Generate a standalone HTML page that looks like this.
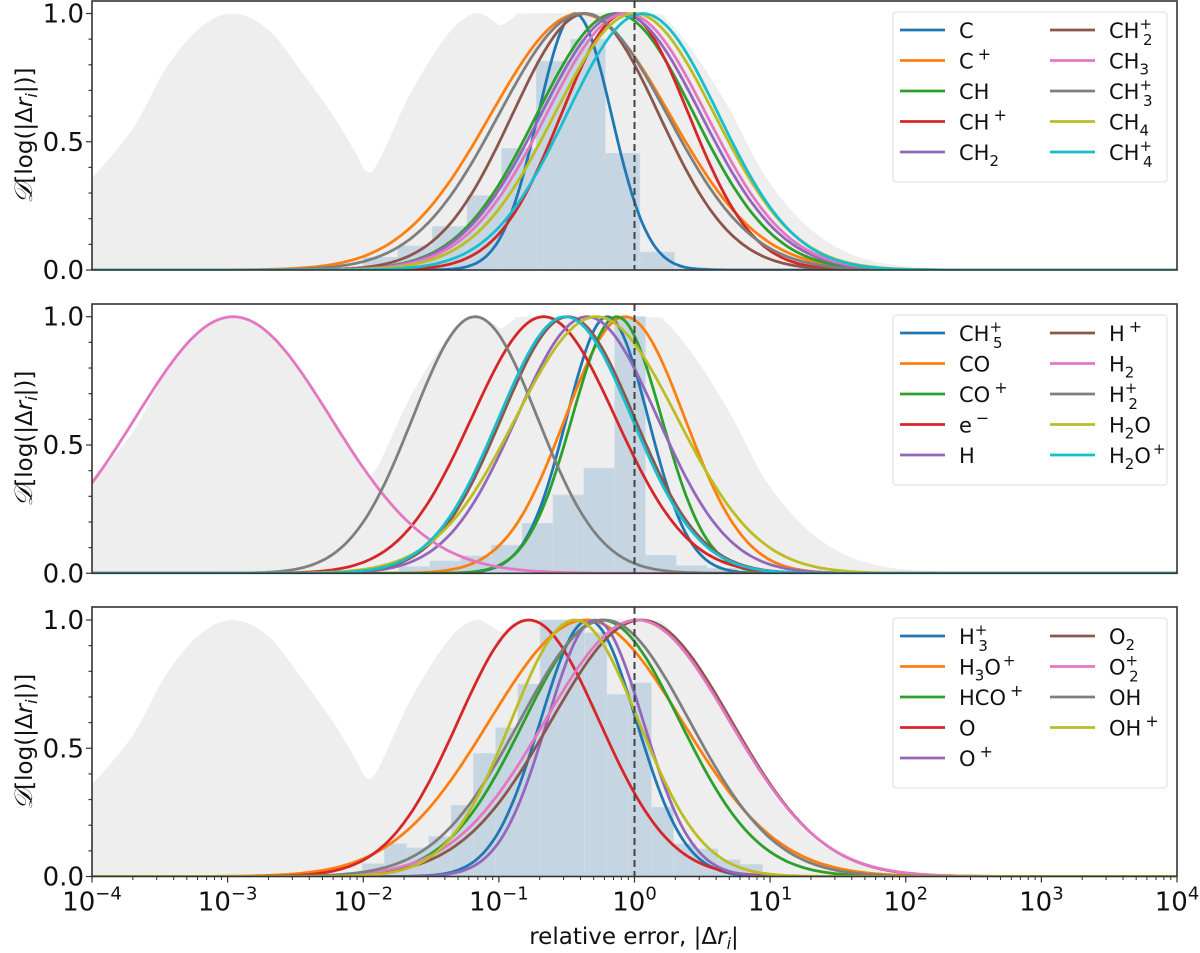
<!DOCTYPE html>
<html><head><meta charset="utf-8">
<style>
html,body{margin:0;padding:0;background:#fff;}
svg{display:block;font-family:"DejaVu Sans","Liberation Sans",sans-serif;}
</style></head>
<body>
<svg id="chart" width="1200" height="953" viewBox="0 0 1200 953" xmlns="http://www.w3.org/2000/svg"></svg>
<script>
// ---------- data ----------
const xTickExps = [-4,-3,-2,-1,0,1,2,3,4];
const yTickVals = [0,0.5,1];
const yTickLabels = ["0.0","0.5","1.0"];

// envelope fill (log10 x, value)
const envLog = [-4,-3.7,-3.45,-3.2,-2.96,-2.7,-2.45,-2.22,-2.06,-1.975,-1.89,-1.65,-1.375,-1.18,-1.05,-0.98,-0.88,-0.8,0.09,0.24,0.46,0.705,0.95,1.2,1.44,1.69,2.0,2.5,3,4];
const envVal = [0.357,0.55,0.79,0.946,1.0,0.937,0.77,0.6,0.46,0.385,0.42,0.69,0.92,1.0,0.975,0.955,0.99,1.0,1.0,0.974,0.83,0.623,0.377,0.208,0.104,0.045,0.015,0.003,0,0];

// panel 1
const p1Names = ["C","C+","CH","CH+","CH2","CH2+","CH3","CH3+","CH4","CH4+"];
const p1Mu = [-0.44,-0.40,-0.14,-0.07,-0.10,-0.36,-0.06,-0.38,0.0,0.06];
const p1Sigma = [0.27,0.66,0.58,0.47,0.59,0.54,0.59,0.62,0.59,0.56];
const p1HistStart = [-2.0,-1.745,-1.49,-1.235,-0.98,-0.725,-0.47,-0.215,0.04,0.295];
const p1HistWidth = 0.255;
const p1HistVal = [0.05,0.094,0.17,0.29,0.474,0.814,0.9,0.455,0.07,0.01];

// panel 2
const p2Names = ["CH5+","CO","CO+","e-","H","H+","H2","H2+","H2O","H2O+"];
const p2Mu = [-0.20,-0.07,-0.13,-0.67,-0.35,-0.49,-2.96,-1.175,-0.28,-0.51];
const p2Sigma = [0.30,0.44,0.33,0.53,0.52,0.49,0.72,0.46,0.595,0.49];
const p2HistStart = [-1.736,-1.509,-1.282,-1.055,-0.828,-0.601,-0.374,-0.147,0.08,0.307,0.534,0.761];
const p2HistWidth = 0.227;
const p2HistVal = [0.026,0.048,0.068,0.11,0.195,0.305,0.41,1.0,0.07,0.03,0.02,0.01];

// panel 3
const p3Names = ["H3+","H3O+","HCO+","O","O+","O2","O2+","OH","OH+"];
const p3Mu = [-0.34,-0.36,-0.24,-0.78,-0.29,0.05,0.02,-0.22,-0.44];
const p3Sigma = [0.354,0.71,0.573,0.52,0.354,0.665,0.68,0.626,0.47];
const p3HistStart = [-2.008,-1.844,-1.68,-1.516,-1.352,-1.188,-1.024,-0.86,-0.696,-0.532,-0.368,-0.204,-0.04,0.124,0.288,0.452,0.616,0.78];
const p3HistWidth = 0.164;
const p3HistVal = [0.05,0.128,0.112,0.156,0.277,0.48,0.58,0.75,1.0,1.0,0.95,0.71,0.755,0.27,0.128,0.108,0.065,0.047];

const colors = ["#1f77b4","#ff7f0e","#2ca02c","#d62728","#9467bd","#8c564b","#e377c2","#7f7f7f","#bcbd22","#17becf"];

// ---------- geometry ----------
const X0 = 92, X1 = 1177;
const panels = [
  {y1:13.5, y0:270, top:1, names:p1Names, mu:p1Mu, sg:p1Sigma, hs:p1HistStart, hw:p1HistWidth, hv:p1HistVal},
  {y1:316.7, y0:573.3, top:304, names:p2Names, mu:p2Mu, sg:p2Sigma, hs:p2HistStart, hw:p2HistWidth, hv:p2HistVal},
  {y1:620, y0:876.5, top:607, names:p3Names, mu:p3Mu, sg:p3Sigma, hs:p3HistStart, hw:p3HistWidth, hv:p3HistVal}
];
const NS = "http://www.w3.org/2000/svg";
const svg = document.getElementById('chart');
function xs(l){ return X0 + (l + 4) / 8 * (X1 - X0); }
function mk(tag, attrs, parent){
  const e = document.createElementNS(NS, tag);
  for (const k in attrs) e.setAttribute(k, attrs[k]);
  (parent || svg).appendChild(e);
  return e;
}
function smoothPath(pts){
  // Catmull-Rom to bezier
  let d = 'M' + pts[0][0].toFixed(1) + ',' + pts[0][1].toFixed(1);
  for (let i = 0; i < pts.length - 1; i++) {
    const p0 = pts[Math.max(0,i-1)], p1 = pts[i], p2 = pts[i+1], p3 = pts[Math.min(pts.length-1,i+2)];
    const c1x = p1[0] + (p2[0]-p0[0])/6, c1y = p1[1] + (p2[1]-p0[1])/6;
    const c2x = p2[0] - (p3[0]-p1[0])/6, c2y = p2[1] - (p3[1]-p1[1])/6;
    d += ' C' + c1x.toFixed(1)+','+c1y.toFixed(1)+' '+c2x.toFixed(1)+','+c2y.toFixed(1)+' '+p2[0].toFixed(1)+','+p2[1].toFixed(1);
  }
  return d;
}

panels.forEach((p, pi) => {
  const ys = v => p.y0 - v * (p.y0 - p.y1);
  const g = mk('g', {}, svg);
  
  
  const clipId = 'clip' + pi;
  const cp = mk('clipPath', {id: clipId}, g);
  mk('rect', {x:X0, y:p.top, width:X1-X0, height:p.y0-p.top}, cp);
  const plot = mk('g', {'clip-path':'url(#'+clipId+')'}, g);
  // envelope
  const pts = envLog.map((l,i) => [xs(l), ys(envVal[i])]);
  let d = smoothPath(pts);
  d += ' L' + xs(envLog[envLog.length-1]) + ',' + ys(0) + ' L' + xs(envLog[0]) + ',' + ys(0) + ' Z';
  const env = mk('path', {d:d, fill:'#eeeeee'}, plot);
  
  
  // histogram
  p.hs.forEach((s, i) => {
    const r = mk('rect', {x:xs(s).toFixed(1), y:ys(p.hv[i]).toFixed(1), width:(xs(s+p.hw)-xs(s)).toFixed(1), height:(ys(0)-ys(p.hv[i])).toFixed(1), fill:'#c5d6e2', stroke:'#cfdde8', 'stroke-width':0.6}, plot);
    
    
  });
  // curves
  p.mu.forEach((mu, i) => {
    let pd = '';
    for (let k = 0; k <= 400; k++) {
      const l = -4 + 8 * k / 400;
      const v = Math.exp(-Math.pow(l - mu, 2) / (2 * p.sg[i] * p.sg[i]));
      pd += (k ? ' L' : 'M') + xs(l).toFixed(1) + ',' + ys(v).toFixed(1);
    }
    const c = mk('path', {d:pd, fill:'none', stroke:colors[i], 'stroke-width':2.8, 'stroke-linejoin':'round'}, plot);
    
    
  });
  // dashed line at 1
  const dl = mk('line', {x1:xs(0), x2:xs(0), y1:p.top, y2:p.y0, stroke:'#444', 'stroke-width':2, 'stroke-dasharray':'7,4'}, g);
  
  
  // frame
  const fr = mk('rect', {x:X0, y:p.top, width:X1-X0, height:p.y0-p.top, fill:'none', stroke:'#333', 'stroke-width':1.6}, g);
  
  
  // y ticks
  for (let k = 0; k <= 10; k++) {
    const v = k / 10;
    const major = (k % 5 === 0);
    mk('line', {x1:X0 - (major ? 6 : 3.5), x2:X0, y1:ys(v), y2:ys(v), stroke:'#333', 'stroke-width':1.2}, g);
  }
  yTickVals.forEach((v, i) => {
    const t = mk('text', {x:X0 - 8, y:ys(v) + 9, 'text-anchor':'end', 'font-size':26, fill:'#111'}, g);
    t.textContent = yTickLabels[i];
    
    
  });
  // y axis title
  const yc = (p.top + p.y0) / 2;
  const yt = mk('text', {x:0, y:0, transform:'translate(32,' + yc + ') rotate(-90)', 'text-anchor':'middle', 'font-size':23, fill:'#111'}, g);
  
  
  yt.innerHTML = '<tspan font-family="Liberation Serif, serif" font-style="italic" font-size="25">𝒟</tspan>[log(|Δ<tspan font-style="italic">r</tspan><tspan font-size="16" font-style="italic" dy="5">i</tspan><tspan dy="-5">|)]</tspan>';
  // legend
  const lg = mk('g', {}, g);
  
  
  const by = p.top + 11;
  mk('rect', {x:893, y:by, width:274, height:170, rx:3, fill:'#fff', 'fill-opacity':0.85, stroke:'#dddddd', 'stroke-width':1}, lg);
  p.names.forEach((n, i) => {
    const col = i < 5 ? 0 : 1;
    const row = i % 5;
    const lx = col ? 1050 : 900;
    const ly = by + 18 + row * 30.5;
    const e = mk('g', {}, lg);
    
    
    mk('line', {x1:lx, x2:lx + 45, y1:ly, y2:ly, stroke:colors[i], 'stroke-width':2.8}, e);
    const t = mk('text', {x:lx + 59, y:ly + 8, 'font-size':21, fill:'#111'}, e);
    let html = '';
    let base = n, sup = '';
    if (n.endsWith('+')) { sup = '+'; base = n.slice(0,-1); }
    else if (n === 'e-') { sup = '\u2212'; base = 'e'; }
    const m = base.match(/^(.*?)(\d)(.*)$/);
    if (m) {
      if (sup && m[3] === '') {
        html = m[1] + '<tspan font-size="15" dy="-9">' + sup + '</tspan><tspan font-size="15" dx="-9" dy="16">' + m[2] + '</tspan>';
      } else {
        html = m[1] + '<tspan font-size="15" dy="6">' + m[2] + '</tspan><tspan dy="-6">' + m[3] + '</tspan>' + (sup ? '<tspan font-size="15" dy="-9" dx="2">' + sup + '</tspan>' : '');
      }
    } else {
      html = base + (sup ? '<tspan font-size="16" dy="-9" dx="4">' + sup + '</tspan>' : '');
    }
    t.innerHTML = html;
  });
});

// x ticks bottom panel
const pb = panels[2];
xTickExps.forEach(e => {
  mk('line', {x1:xs(e), x2:xs(e), y1:pb.y0, y2:pb.y0 + 6, stroke:'#333', 'stroke-width':1.2});
  if (e < 4) for (let m = 2; m <= 9; m++) {
    const xx = xs(e + Math.log10(m));
    mk('line', {x1:xx, x2:xx, y1:pb.y0, y2:pb.y0 + 3.5, stroke:'#333', 'stroke-width':1});
  }
  const t = mk('text', {x:xs(e), y:pb.y0 + 34, 'text-anchor':'middle', 'font-size':26, fill:'#111'});
  
  
  t.innerHTML = '10<tspan font-size="18" dy="-11">' + (e < 0 ? '\u2212' + (-e) : e) + '</tspan>';
});
const xt = mk('text', {x:634, y:944, 'text-anchor':'middle', 'font-size':23, fill:'#111'});


xt.innerHTML = 'relative error, |Δ<tspan font-style="italic">r</tspan><tspan font-size="16" font-style="italic" dy="5">i</tspan><tspan dy="-5">|</tspan>';
</script>
</body></html>
